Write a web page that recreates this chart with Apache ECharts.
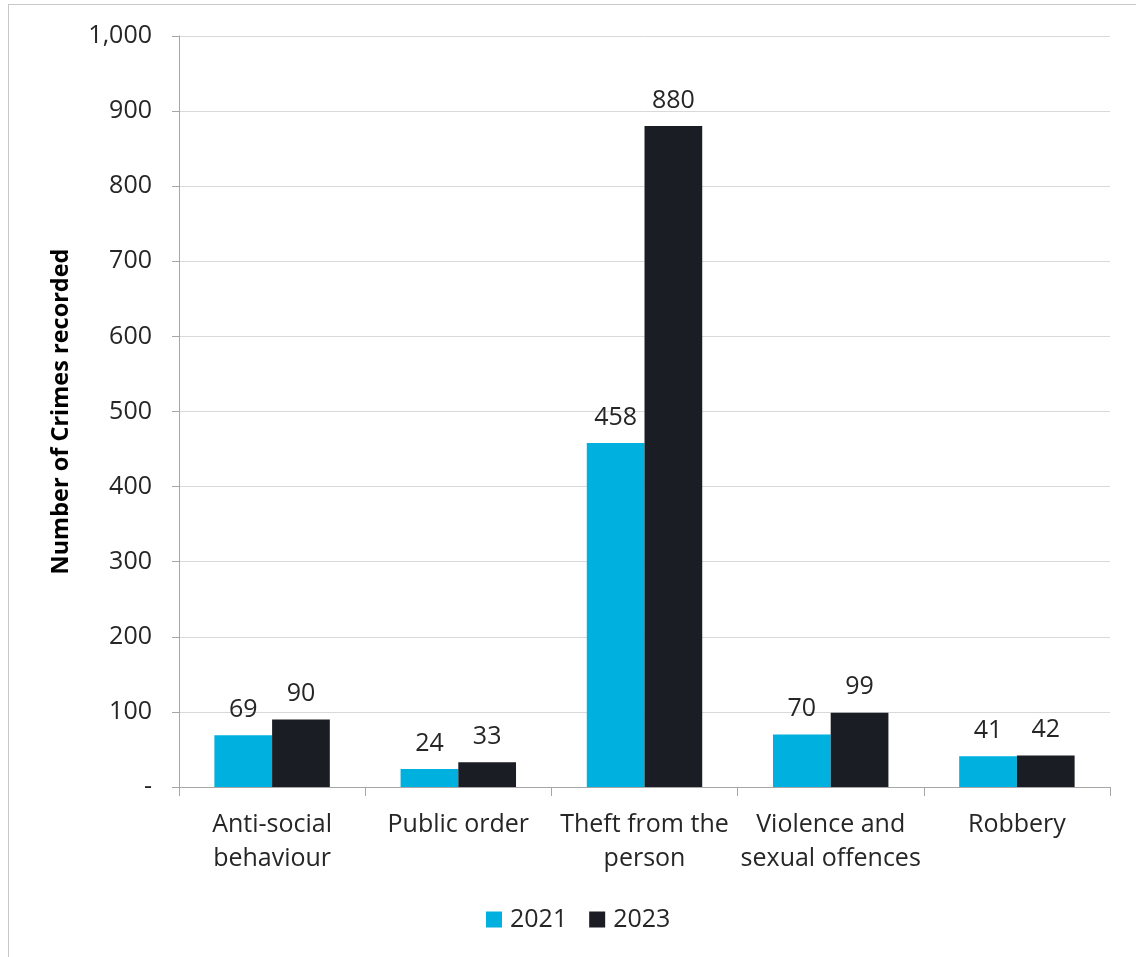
<!DOCTYPE html>
<html>
<head>
<meta charset="utf-8">
<script src="https://cdn.jsdelivr.net/npm/echarts@6/dist/echarts.min.js"></script>
<style>
  html, body { margin: 0; padding: 0; background: #fff; }
  #frame { position: absolute; left: 8px; top: 4px; width: 1140px; height: 960px; border: 1px solid #c8c8c8; box-sizing: border-box; }
  #chart { position: absolute; left: 0; top: 0; width: 1136px; height: 957px; }
</style>
</head>
<body>
<div id="frame"></div>
<div id="chart"></div>
<script>
const categories = ['Anti-social\nbehaviour', 'Public order', 'Theft from the\nperson', 'Violence and\nsexual offences', 'Robbery'];
const values2021 = [69, 24, 458, 70, 41];
const values2023 = [90, 33, 880, 99, 42];
const seriesNames = ['2021', '2023'];
const yTitle = 'Number of Crimes recorded';

const FONT = '"Open Sans", "Noto Sans", sans-serif';
const TXT = '#262626';
const chart = echarts.init(document.getElementById('chart'), null, { renderer: 'canvas' });

const labelStyle = {
  show: true, position: 'top', distance: 13,
  fontFamily: FONT, fontSize: 25, color: TXT
};

chart.setOption({
  backgroundColor: 'transparent',
  animation: false,
  textStyle: { fontFamily: FONT },
  grid: { left: 179, right: 26, top: 36, bottom: 170 },
  legend: {
    data: seriesNames,
    bottom: 20,
    left: 481,
    itemWidth: 16, itemHeight: 16, itemGap: 22,
    icon: 'rect',
    textStyle: { fontFamily: FONT, fontSize: 25, color: TXT, padding: [0, 0, 0, 3] }
  },
  xAxis: {
    type: 'category',
    data: categories,
    axisLine: { lineStyle: { color: '#A6A6A6', width: 1 } },
    axisTick: { show: true, length: 9, lineStyle: { color: '#A6A6A6' }, alignWithLabel: false },
    axisLabel: { fontFamily: FONT, fontSize: 25, color: TXT, margin: 21, lineHeight: 34, interval: 0 }
  },
  yAxis: {
    type: 'value',
    min: 0, max: 1000, interval: 100,
    name: yTitle,
    nameLocation: 'middle',
    nameGap: 106,
    nameRotate: 90,
    nameTextStyle: { fontFamily: FONT, fontSize: 23.5, fontWeight: 'bold', color: '#000' },
    axisLine: { show: true, lineStyle: { color: '#A6A6A6', width: 1 } },
    axisTick: { show: true, length: 7, lineStyle: { color: '#A6A6A6' } },
    axisLabel: {
      fontFamily: FONT, fontSize: 25, color: TXT, margin: 27,
      formatter: v => v === 0 ? '-' : v.toLocaleString('en-US')
    },
    splitLine: { show: true, lineStyle: { color: '#D9D9D9', width: 1 } }
  },
  series: [
    {
      name: seriesNames[0], type: 'bar', data: values2021,
      barGap: '0%', barCategoryGap: '38%',
      itemStyle: { color: '#00B0DE' },
      label: labelStyle
    },
    {
      name: seriesNames[1], type: 'bar', data: values2023,
      itemStyle: { color: '#1A1D24' },
      label: labelStyle
    }
  ]
});
</script>
</body>
</html>
